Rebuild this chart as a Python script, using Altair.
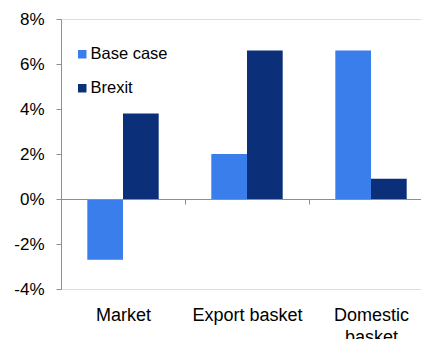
import altair as alt
import pandas as pd

categories = ["Market", "Export basket", "Domestic basket"]
series = ["Base case", "Brexit"]
base_case = [-2.7, 2.0, 6.6]
brexit = [3.8, 6.6, 0.9]
colors = ["#3A7EEC", "#0B2F78"]
y_ticks = [-4, -2, 0, 2, 4, 6, 8]

rows = []
for c, b, x in zip(categories, base_case, brexit):
    rows.append({"category": c, "series": series[0], "value": b})
    rows.append({"category": c, "series": series[1], "value": x})
df = pd.DataFrame(rows)

FONT = "Liberation Sans"
GRAY = "#8f8f8f"

chart = alt.Chart(df).mark_bar().encode(
    x=alt.X(
        "category:N",
        sort=categories,
        scale=alt.Scale(range=[0, 372], paddingInner=0, paddingOuter=0),
        axis=alt.Axis(
            title=None,
            offset=-90,
            tickBand="extent",
            tickSize=5,
            tickColor=GRAY,
            domainColor=GRAY,
            labelAngle=0,
            labelPadding=102,
            labelFont=FONT,
            labelFontSize=18,
            labelColor="#000000",
            labelLineHeight=22,
            labelExpr="datum.value == 'Domestic basket' ? ['Domestic', 'basket'] : datum.label",
            zindex=1,
        ),
    ),
    xOffset=alt.XOffset(
        "series:N",
        sort=series,
        scale=alt.Scale(paddingInner=0, paddingOuter=0.737),
    ),
    y=alt.Y(
        "value:Q",
        scale=alt.Scale(domain=[-4, 8], nice=False, zero=False),
        axis=alt.Axis(
            title=None,
            values=y_ticks,
            grid=False,
            tickSize=5,
            tickColor=GRAY,
            domainColor=GRAY,
            labelExpr="datum.value + '%'",
            labelFont=FONT,
            labelFontSize=17,
            labelColor="#000000",
            labelPadding=12,
        ),
    ),
    color=alt.Color(
        "series:N",
        sort=series,
        scale=alt.Scale(domain=series, range=colors),
        legend=alt.Legend(
            title=None,
            orient="none",
            legendX=13,
            legendY=27,
            padding=0,
            symbolType="square",
            symbolSize=72,
            symbolStrokeWidth=0,
            labelFont=FONT,
            labelFontSize=16.5,
            labelColor="#000000",
            labelOffset=0,
            rowPadding=17,
        ),
    ),
).properties(
    width=360,
    height=270,
    autosize=alt.AutoSizeParams(type="none"),
    padding={"left": 61, "top": 19, "right": 0, "bottom": 50},
).configure_view(stroke=None).configure(background="#ffffff")

chart.save("out.html", embed_options={"renderer": "svg", "actions": False})
